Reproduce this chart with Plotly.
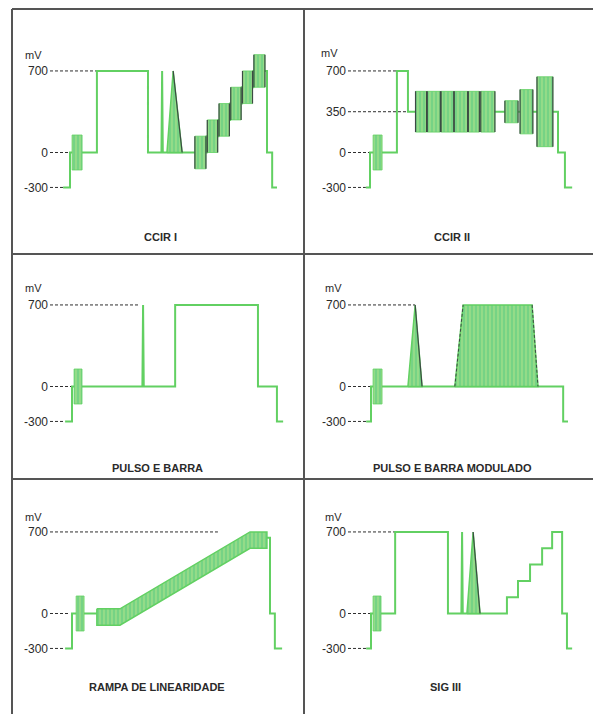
import plotly.graph_objects as go

# ---------------- data (time in µs from sync rise, level in mV) ----------------
TITLES = ["CCIR I", "CCIR II", "PULSO E BARRA", "PULSO E BARRA MODULADO",
          "RAMPA DE LINEARIDADE", "SIG III"]
TICK_LEVELS = [[700, 0, -300], [700, 350, 0, -300], [700, 0, -300],
               [700, 0, -300], [700, 0, -300], [700, 0, -300]]
TICK_TEXT = [["700", "0", "-300"], ["700", "350", "0", "-300"], ["700", "0", "-300"],
             ["700", "0", "-300"], ["700", "0", "-300"], ["700", "0", "-300"]]
# end time of each dashed reference line
DASH_ENDS = [[7.8, 0.0, -2.0], [7.8, 10.7, 0.0, -1.2], [19.7, 0.0, -2.0],
             [12.8, 0.0, -1.4], [42.3, -0.6, -2.0], [7.0, 0.0, -1.4]]

CCIR1_T = [-2.0, 0.0, 0.0, 7.8, 7.8, 22.6, 22.6, 26.5, 26.7, 26.9, 39.6, 39.6, 43.0, 43.0,
           46.4, 46.4, 49.8, 49.8, 53.1, 53.1, 57.1, 57.1, 58.6, 58.6, 60.0]
CCIR1_MV = [-300, -300, 0, 0, 700, 700, 0, 0, 700, 0, 0, 140, 140, 280,
            280, 420, 420, 560, 560, 700, 700, 0, 0, -300, -300]
# packets: start, end, centre, half amplitude, dark edges
CCIR1_BURSTS = [(0.6, 3.5, 0, 150, False), (36.2, 39.4, 0, 140, True),
                (39.8, 42.8, 140, 140, True), (43.2, 46.2, 280, 140, True),
                (46.6, 49.6, 420, 140, True), (50.0, 52.9, 560, 140, True),
                (53.3, 56.5, 700, 140, True)]
CCIR1_PULSES = [(28.1, 29.9, 32.5, 700)]

CCIR2_T = [-1.2, 0.0, 0.0, 7.8, 7.8, 11.0, 11.0, 54.5, 54.5, 56.5, 56.5, 58.6]
CCIR2_MV = [-300, -300, 0, 0, 700, 700, 350, 350, 0, 0, -300, -300]
CCIR2_BURSTS = [(0.9, 3.5, 0, 150, False),
                (13.2, 16.4, 350, 175, True), (16.6, 20.4, 350, 175, True),
                (20.6, 24.3, 350, 175, True), (24.4, 28.3, 350, 175, True),
                (28.5, 31.7, 350, 175, True), (32.1, 36.2, 350, 175, True),
                (39.1, 42.9, 350, 95, True), (43.5, 47.2, 350, 190, True),
                (48.4, 53.0, 350, 300, True)]
CCIR2_PULSES = []

PB_T = [-2.0, 0.0, 0.0, 20.4, 20.6, 20.8, 29.9, 29.9, 53.9, 53.9, 59.4, 59.4, 61.2]
PB_MV = [-300, -300, 0, 0, 700, 0, 0, 700, 700, 0, 0, -300, -300]
PB_BURSTS = [(0.6, 2.9, 0, 150, False)]
PB_PULSES = []

PBM_T = [-1.4, 0.0, 0.0, 55.7, 55.7, 57.1]
PBM_MV = [-300, -300, 0, 0, -300, -300]
PBM_BURSTS = [(0.6, 3.2, 0, 150, False)]
PBM_PULSES = [(10.7, 12.8, 14.8, 700)]
PBM_BAR = (24.3, 26.7, 46.7, 48.4, 700)   # rise start, top start, top end, fall end, level

RAMP_T = [-2.0, 0.0, 0.0, 7.2, None, 56.5, 57.4, 57.4, 58.8, 58.8, 60.9]
RAMP_MV = [-300, -300, 0, 0, None, 650, 650, 0, 0, -300, -300]
RAMP_BURSTS = [(1.2, 3.5, 0, 150, False)]
RAMP_PULSES = []
RAMP_CENTRE_T = [7.2, 13.9, 51.6, 56.5]
RAMP_CENTRE_MV = [-30, -30, 630, 630]
RAMP_HALF = 70

SIG3_T = [-1.4, 0.0, 0.0, 7.0, 7.0, 22.3, 22.3, 26.2, 26.4, 26.6, 39.4, 39.4, 42.6, 42.6,
          46.1, 46.1, 49.6, 49.6, 52.5, 52.5, 55.4, 55.4, 56.8, 56.8, 58.3]
SIG3_MV = [-300, -300, 0, 0, 700, 700, 0, 0, 700, 0, 0, 140, 140, 280,
           280, 420, 420, 560, 560, 700, 700, 0, 0, -300, -300]
SIG3_BURSTS = [(0.6, 2.9, 0, 150, False)]
SIG3_PULSES = [(27.8, 29.6, 31.6, 700)]

LINES = [(CCIR1_T, CCIR1_MV), (CCIR2_T, CCIR2_MV), (PB_T, PB_MV),
         (PBM_T, PBM_MV), (RAMP_T, RAMP_MV), (SIG3_T, SIG3_MV)]
BURSTS = [CCIR1_BURSTS, CCIR2_BURSTS, PB_BURSTS, PBM_BURSTS, RAMP_BURSTS, SIG3_BURSTS]
PULSES = [CCIR1_PULSES, CCIR2_PULSES, PB_PULSES, PBM_PULSES, RAMP_PULSES, SIG3_PULSES]

# ---------------- layout geometry (pixels) ----------------
W, H = 593, 714
KX = 3.45      # px per µs
KY = 0.1165    # px per mV
RISE_PX = [70, 370, 72, 371, 72, 371]
COL_DOM = [(50, 300), (348, 590)]
ROW_ZERO = [152.5, 386.5, 613.5]
TITLE_POS = [(160, 237), (452, 237), (157, 468), (452, 468), (157, 687), (445, 687)]
MV_POS = [(33, 55), (329, 53), (33, 288), (333, 288), (33, 517), (333, 517)]

GREEN = "#62d062"
FILL_BG = "#76d385"
FILL_FG = "#bfe78c"
EDGE = "#3c4a44"
DASH = "#2e2e2e"
TEXT = "#2a2a2a"


def px(x):
    return x / W


def py(y):
    return 1 - y / H


fig = go.Figure()
layout = dict(width=W, height=H, margin=dict(l=0, r=0, t=0, b=0),
              paper_bgcolor="white", plot_bgcolor="rgba(0,0,0,0)",
              showlegend=False, shapes=[], annotations=[])

pattern = dict(shape="|", size=4, solidity=0.4, fgcolor=FILL_FG, bgcolor=FILL_BG)

for i in range(6):
    row, col = divmod(i, 2)
    sfx = "" if i == 0 else str(i + 1)
    xa, ya = "x" + sfx, "y" + sfx
    d0, d1 = COL_DOM[col]
    z = ROW_ZERO[row]
    top_px, bot_px = z - 112, z + 56
    xr = [(d0 - RISE_PX[i]) / KX, (d1 - RISE_PX[i]) / KX]
    yr = [(z - bot_px) / KY, (z - top_px) / KY]
    layout["xaxis" + sfx] = dict(domain=[px(d0), px(d1)], range=xr, anchor=ya,
                                 visible=False, fixedrange=True)
    layout["yaxis" + sfx] = dict(domain=[py(bot_px), py(top_px)], range=yr, anchor=xa,
                                 showgrid=False, zeroline=False, showline=False, ticks="",
                                 tickvals=TICK_LEVELS[i], ticktext=TICK_TEXT[i],
                                 ticklabelstandoff=1,
                                 tickfont=dict(family="Liberation Sans, Arial", size=12,
                                               color=TEXT), fixedrange=True)

    # dashed reference lines
    for lvl, end in zip(TICK_LEVELS[i], DASH_ENDS[i]):
        fig.add_trace(go.Scatter(x=[xr[0], end], y=[lvl, lvl], mode="lines",
                                 line=dict(color=DASH, width=1, dash="3px,2px"),
                                 xaxis=xa, yaxis=ya, hoverinfo="skip"))

    # ramp band
    if i == 4:
        bx = RAMP_CENTRE_T + RAMP_CENTRE_T[::-1] + [RAMP_CENTRE_T[0]]
        by = ([v + RAMP_HALF for v in RAMP_CENTRE_MV]
              + [v - RAMP_HALF for v in RAMP_CENTRE_MV[::-1]]
              + [RAMP_CENTRE_MV[0] + RAMP_HALF])
        fig.add_trace(go.Scatter(x=bx, y=by, mode="lines", fill="toself",
                                 fillcolor=FILL_BG, fillpattern=pattern,
                                 line=dict(color=GREEN, width=1.5),
                                 xaxis=xa, yaxis=ya, hoverinfo="skip"))

    # main luminance waveform
    t, mv = LINES[i]
    fig.add_trace(go.Scatter(x=t, y=mv, mode="lines", line=dict(color=GREEN, width=2),
                             connectgaps=False, xaxis=xa, yaxis=ya, hoverinfo="skip"))

    # modulated bar
    if i == 3:
        a, b, c, d, lv = PBM_BAR
        fig.add_trace(go.Scatter(x=[a, b, c, d, a], y=[0, lv, lv, 0, 0], mode="lines",
                                 fill="toself", fillcolor=FILL_BG, fillpattern=pattern,
                                 line=dict(color=GREEN, width=1.5),
                                 xaxis=xa, yaxis=ya, hoverinfo="skip"))
        fig.add_trace(go.Scatter(x=[a, b, None, c, d], y=[0, lv, None, lv, 0], mode="lines",
                                 line=dict(color=EDGE, width=1, dash="3px,2px"),
                                 xaxis=xa, yaxis=ya, hoverinfo="skip"))

    # subcarrier packets
    ex, ey = [], []
    for (s, e, c, h, edged) in BURSTS[i]:
        fig.add_trace(go.Scatter(x=[s, e, e, s, s], y=[c - h, c - h, c + h, c + h, c - h],
                                 mode="lines", fill="toself", fillcolor=FILL_BG,
                                 fillpattern=pattern, line=dict(color=GREEN, width=0.8),
                                 xaxis=xa, yaxis=ya, hoverinfo="skip"))
        if edged:
            ex += [s, s, None, e, e, None]
            ey += [c - h, c + h, None, c - h, c + h, None]
    # modulated pulses
    for (s, pk, e, lv) in PULSES[i]:
        fig.add_trace(go.Scatter(x=[s, pk, e, s], y=[0, lv, 0, 0], mode="lines",
                                 fill="toself", fillcolor=FILL_BG, fillpattern=pattern,
                                 line=dict(color=GREEN, width=1.5),
                                 xaxis=xa, yaxis=ya, hoverinfo="skip"))
        ex += [pk, e, None]
        ey += [lv, 0, None]
    if ex:
        fig.add_trace(go.Scatter(x=ex, y=ey, mode="lines", line=dict(color=EDGE, width=1.2),
                                 xaxis=xa, yaxis=ya, hoverinfo="skip"))

    # texts
    tx, ty = TITLE_POS[i]
    layout["annotations"].append(dict(x=px(tx), y=py(ty), xref="paper", yref="paper",
                                      text="<b>" + TITLES[i] + "</b>", showarrow=False,
                                      xanchor="center", yanchor="middle",
                                      font=dict(family="Liberation Sans, Arial", size=11,
                                                color=TEXT)))
    mx, my = MV_POS[i]
    layout["annotations"].append(dict(x=px(mx), y=py(my), xref="paper", yref="paper",
                                      text="mV", showarrow=False, xanchor="center",
                                      yanchor="middle",
                                      font=dict(family="Liberation Sans, Arial", size=11,
                                                color=TEXT)))

# frame lines
FRAME = [((12, 9), (593, 9)), ((12, 9), (12, 714)), ((304, 9), (304, 714)),
         ((12, 254), (593, 254)), ((12, 479), (593, 479))]
for (x0, y0), (x1, y1) in FRAME:
    layout["shapes"].append(dict(type="line", xref="paper", yref="paper",
                                 x0=px(x0), y0=py(y0), x1=px(x1), y1=py(y1),
                                 line=dict(color="#555555", width=2)))

fig.update_layout(**layout)
fig.write_html("out.html", config={"displayModeBar": False},
               post_script="document.body.style.margin='0';")
